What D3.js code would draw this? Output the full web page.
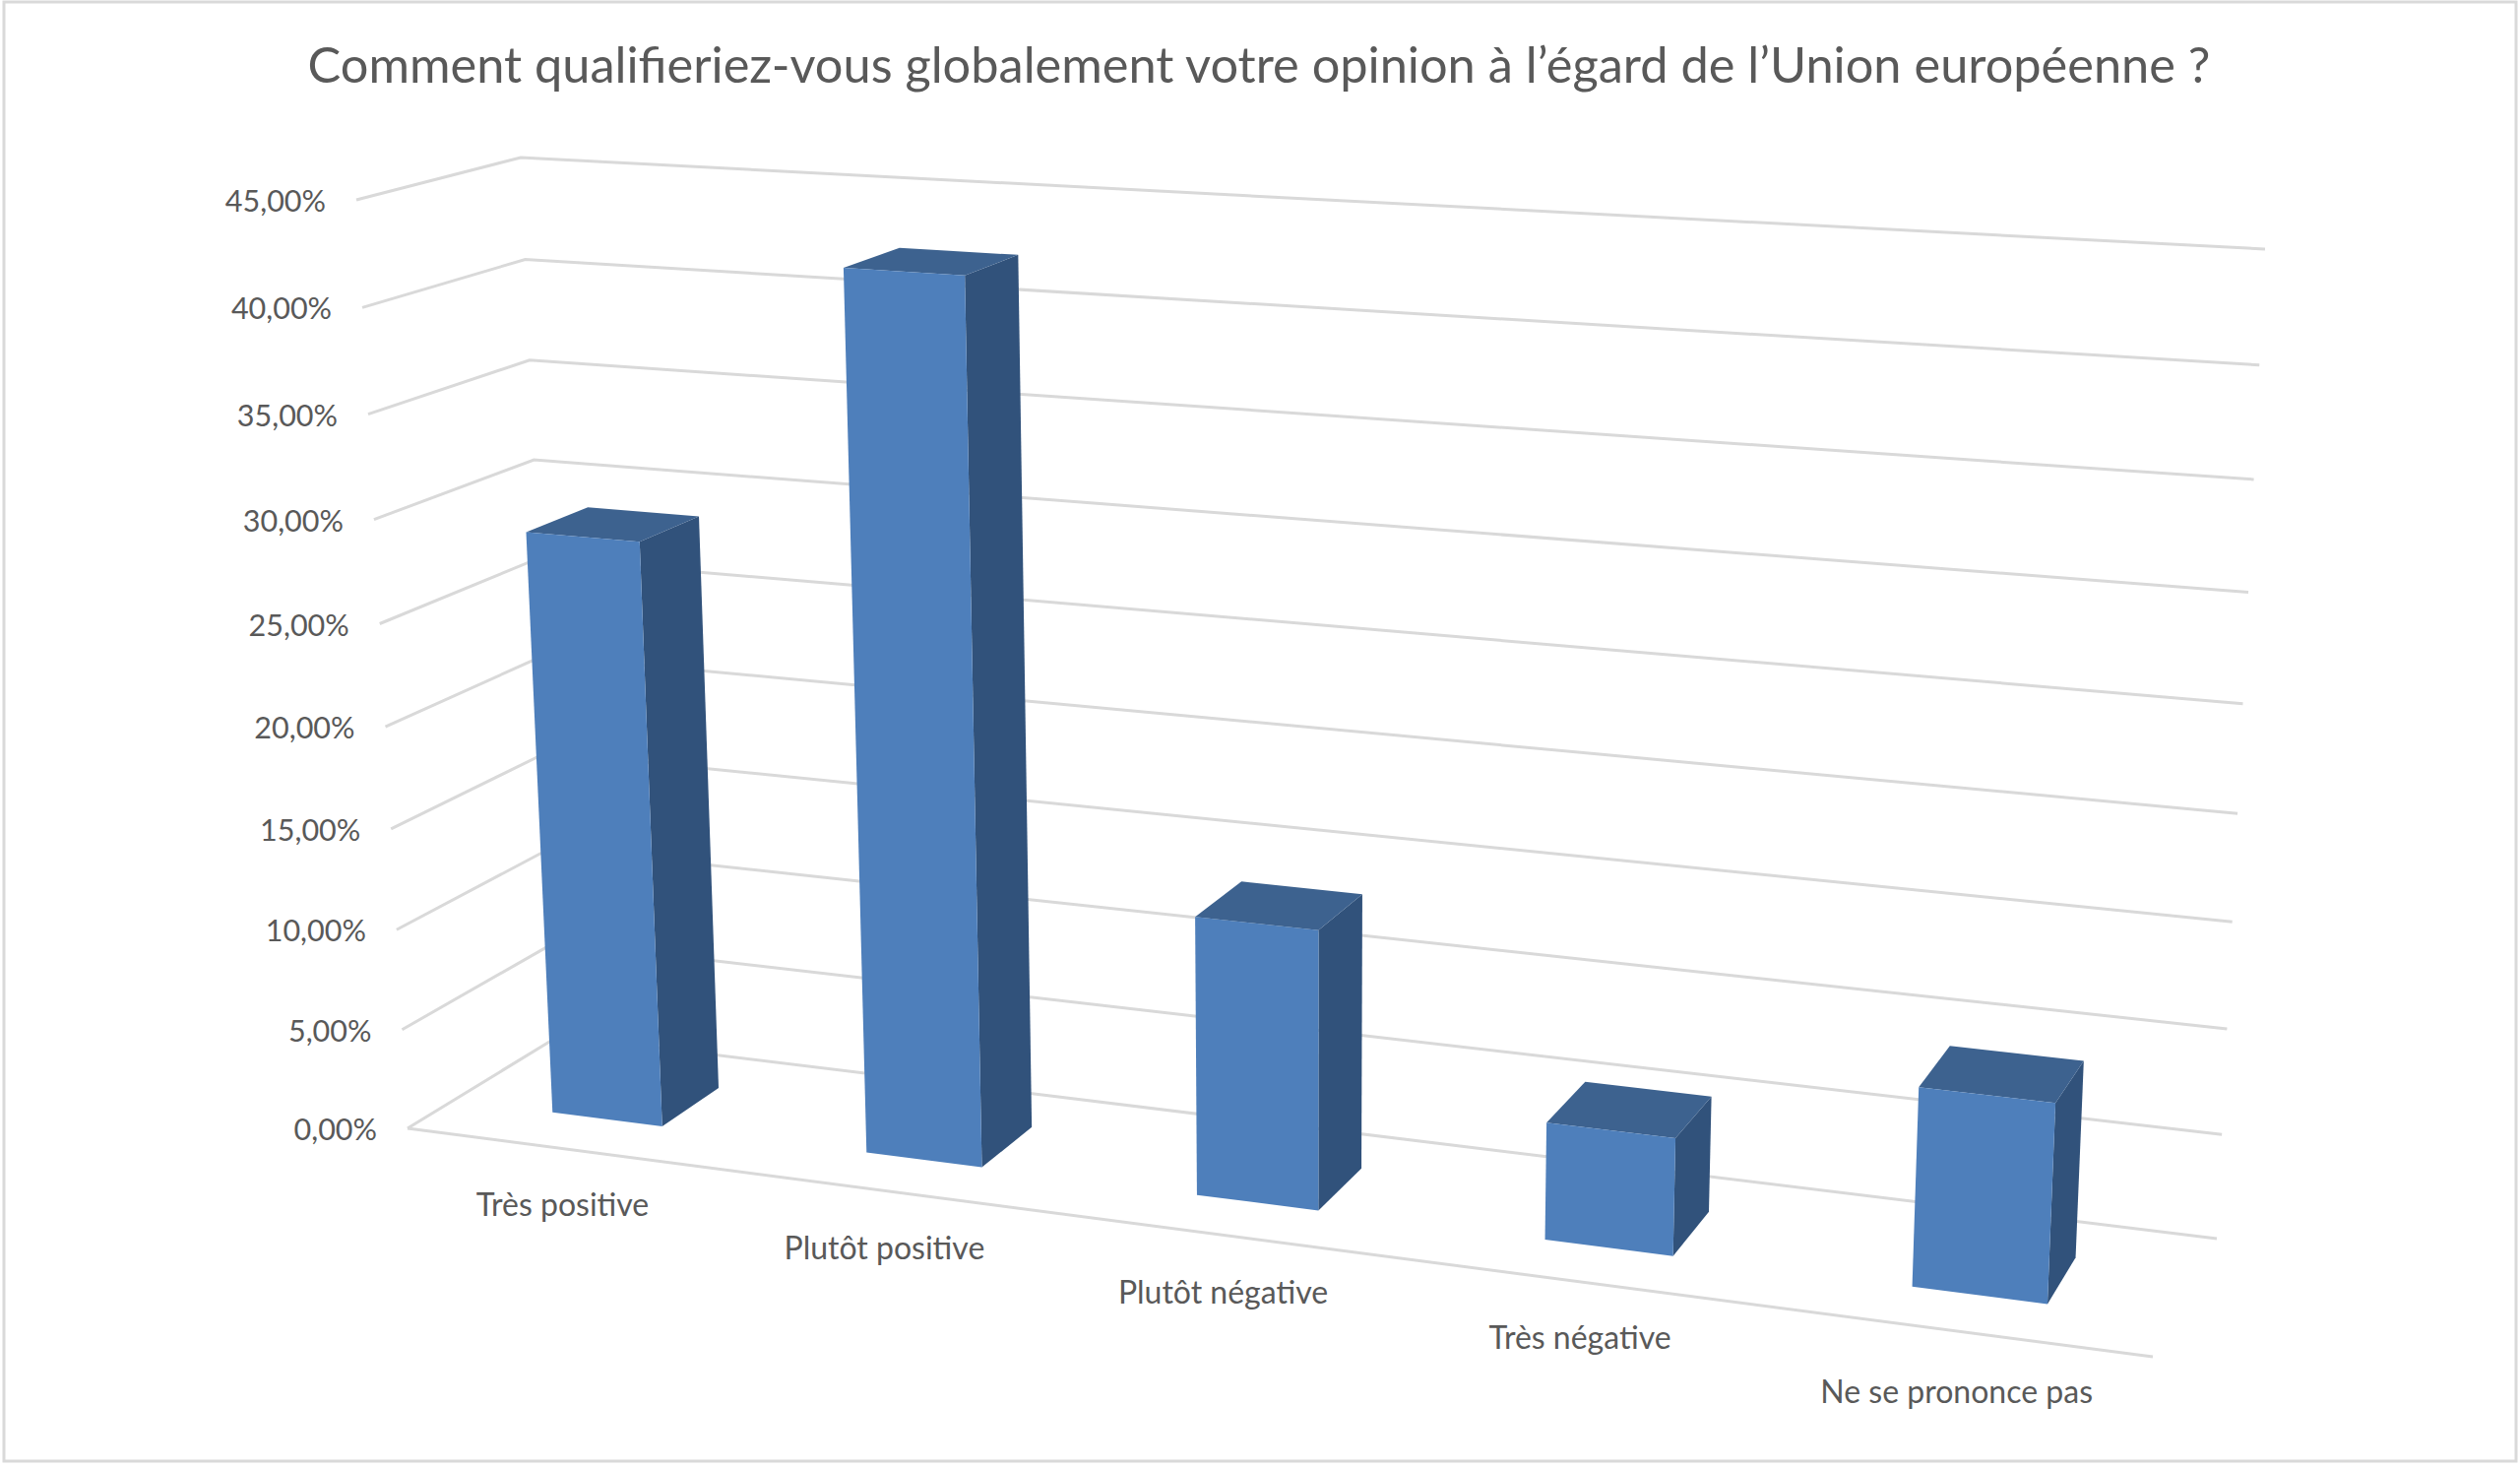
<!DOCTYPE html>
<html><head><meta charset="utf-8">
<script src="https://cdn.jsdelivr.net/npm/d3@7"></script>
<style>html,body{margin:0;padding:0;background:#fff}svg{display:block}</style>
</head><body><div id="c"></div>
<script>
// ---- data ----
const categories = ["Très positive","Plutôt positive","Plutôt négative","Très négative","Ne se prononce pas"];
const values = [28.9, 42.45, 13.5, 5.6, 9.3];
const valueTicks = [0,5,10,15,20,25,30,35,40,45];
const titleText = "Comment qualifieriez-vous globalement votre opinion à l’égard de l’Union européenne ?";

// ---- projected box: corner = [categoryEnd][valueEnd][depthEnd] ----
const W=2560,H=1492;
const box = {
  "000":[414,1146], "001":[568,1052],
  "010":[362,203],  "011":[529,160],
  "100":[2187,1378],"101":[2252,1258],
  "110":[2235,316], "111":[2301,253]
};
const warp = k => t => t/(t+k*(1-t));
const warpX = warp(1.14);
const xBand = d3.scaleBand().domain(categories).range([0,1]).paddingInner(0.645).paddingOuter(0.3225);
const yVal = d3.scaleLinear().domain([0,45]).range([0,1]);
const depth = d3.scaleLinear().domain([0,1]).range([0.31,0.71]);
function project(t,v,d){
  const a=warpX(t), b=warp(1.05+0.012*a)(yVal(v));
  const out=[0,0];
  for(let i=0;i<2;i++){
    let s=0;
    for(const ci of [0,1])for(const vi of [0,1])for(const di of [0,1]){
      s+=(ci?a:1-a)*(vi?b:1-b)*(di?d:1-d)*box[""+ci+vi+di][i];
    }
    out[i]=s;
  }
  return out;
}
const poly=d3.line();
const svg=d3.select("#c").append("svg").attr("width",W).attr("height",H).attr("viewBox",[0,0,W,H]);
svg.append("rect").attr("x",4).attr("y",2).attr("width",W-8).attr("height",1482)
  .attr("fill","#fff").attr("stroke","#d9d9d9").attr("stroke-width",3);

svg.append("text").attr("x",1279).attr("y",84).attr("text-anchor","middle")
  .attr("font-family","Lato").attr("font-size",50.5).attr("fill","#595959").text(titleText);

// grid
svg.append("g").selectAll("path").data(valueTicks).join("path")
  .attr("fill","none").attr("stroke","#d9d9d9").attr("stroke-width",3)
  .attr("d",v=>poly([project(0,v,0),project(0,v,1),project(1,v,1)]));
svg.append("path").attr("fill","none").attr("stroke","#d9d9d9").attr("stroke-width",3)
  .attr("d",poly([project(0,0,0),project(1,0,0)]));

// tick labels
svg.append("g").selectAll("text").data(valueTicks).join("text")
  .attr("text-anchor","end").attr("dominant-baseline","central")
  .attr("font-family","Lato").attr("font-size",30.5).attr("fill","#595959")
  .attr("x",v=>project(0,v,0)[0]-31).attr("y",v=>project(0,v,0)[1])
  .text(v=>d3.format(".2f")(v).replace(".",",")+"%");

// category labels
const labelDrop = [56,57,57,56,61];
svg.append("g").selectAll("text").data(categories).join("text")
  .attr("text-anchor","middle").attr("dominant-baseline","central")
  .attr("font-family","Lato").attr("font-size",32).attr("fill","#595959")
  .attr("x",c=>project(xBand(c)+xBand.bandwidth()/2,0,0)[0])
  .attr("y",(c,i)=>project(xBand(c)+xBand.bandwidth()/2,0,0)[1]+labelDrop[i])
  .text(c=>c);

// bars
const bars=svg.append("g").selectAll("g").data(categories.map((c,i)=>({c,v:values[i]}))).join("g");
const d0=depth(0),d1=depth(1);
const edges=o=>{const l=xBand(o.c),r=l+xBand.bandwidth();return {l,r,v:o.v};};
bars.append("path").attr("fill","#31527b").attr("d",o=>{const e=edges(o);
  return poly([project(e.r,0,d0),project(e.r,0,d1),project(e.r,e.v,d1),project(e.r,e.v,d0)])+"Z";});
bars.append("path").attr("fill","#3d628f").attr("d",o=>{const e=edges(o);
  return poly([project(e.l,e.v,d0),project(e.l,e.v,d1),project(e.r,e.v,d1),project(e.r,e.v,d0)])+"Z";});
bars.append("path").attr("fill","#4e7fbb").attr("d",o=>{const e=edges(o);
  return poly([project(e.l,0,d0),project(e.r,0,d0),project(e.r,e.v,d0),project(e.l,e.v,d0)])+"Z";});
</script></body></html>
